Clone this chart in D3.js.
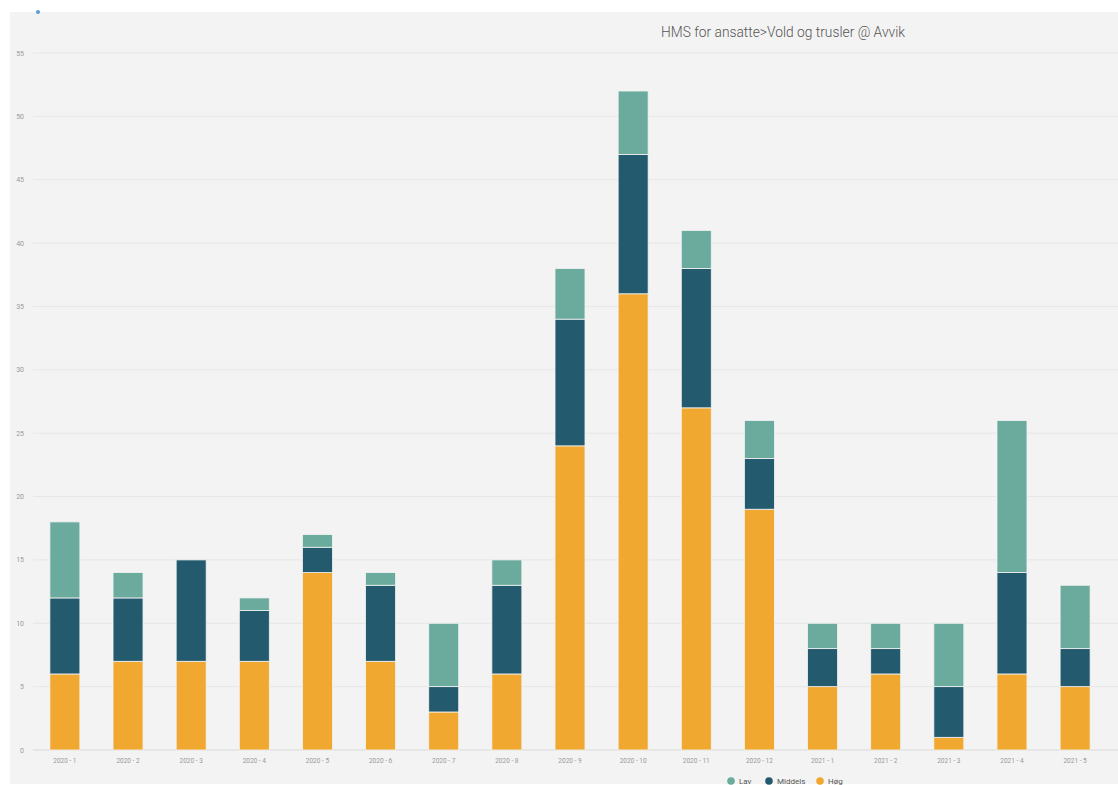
<!DOCTYPE html>
<html><head><meta charset="utf-8">
<script src="https://cdn.jsdelivr.net/npm/d3@7"></script>
<style>body{margin:0;background:#fff;font-family:Roboto,"Noto Sans",sans-serif}</style>
</head><body>
<svg id="c" width="1118" height="785"></svg>
<script>
const categories = ["2020 - 1","2020 - 2","2020 - 3","2020 - 4","2020 - 5","2020 - 6","2020 - 7","2020 - 8","2020 - 9","2020 - 10","2020 - 11","2020 - 12","2021 - 1","2021 - 2","2021 - 3","2021 - 4","2021 - 5"];
const hoy     = [6, 7, 7, 7, 14, 7, 3, 6, 24, 36, 27, 19, 5, 6, 1, 6, 5];
const middels = [6, 5, 8, 4, 2, 6, 2, 7, 10, 11, 11, 4, 3, 2, 4, 8, 3];
const lav     = [6, 2, 0, 1, 1, 1, 5, 2, 4, 5, 3, 3, 2, 2, 5, 12, 5];
const seriesNames = ["Høg", "Middels", "Lav"];
const legendNames = ["Lav", "Middels", "Høg"];
const colors = {"Lav": "#6aab9d", "Middels": "#245a6e", "Høg": "#f0a830"};
const yTicks = [0,5,10,15,20,25,30,35,40,45,50,55];
const title = "HMS for ansatte>Vold og trusler @ Avvik";

const svg = d3.select("#c");
svg.append("rect").attr("x",10).attr("y",12).attr("width",1108).attr("height",772).attr("fill","#f3f3f3");
svg.append("circle").attr("cx",38).attr("cy",12).attr("r",2).attr("fill","#5b9bd5");

const x = d3.scaleBand().domain(categories).range([33,1107]).paddingInner(0.525).paddingOuter(0.2675);
const y = d3.scaleLinear().domain([0,55]).range([750,53]);

// grid
svg.append("g").selectAll("line").data(yTicks).join("line")
  .attr("x1",33).attr("x2",1118).attr("y1",d=>y(d)).attr("y2",d=>y(d))
  .attr("stroke",d=>d===0?"#d9d9d9":"#e6e6e6").attr("stroke-width",1);
svg.append("g").selectAll("text").data(yTicks).join("text")
  .attr("x",24).attr("y",d=>y(d)+2.5).attr("text-anchor","end")
  .attr("font-size",7).attr("fill","#999").text(d=>d);

const data = categories.map((c,i)=>({cat:c,"Høg":hoy[i],"Middels":middels[i],"Lav":lav[i]}));
const stack = d3.stack().keys(seriesNames)(data);
svg.append("g").selectAll("g").data(stack).join("g")
  .attr("fill",d=>colors[d.key])
  .selectAll("rect").data(d=>d.filter(s=>s[1]-s[0]>0)).join("rect")
  .attr("x",d=>x(d.data.cat)).attr("width",x.bandwidth())
  .attr("y",d=>y(d[1])).attr("height",d=>y(d[0])-y(d[1]))
  .attr("stroke","#f3f3f3").attr("stroke-width",0.8);

// x labels
svg.append("g").selectAll("text").data(categories).join("text")
  .attr("x",d=>x(d)+x.bandwidth()/2).attr("y",763).attr("text-anchor","middle")
  .attr("font-size",6.5).attr("fill","#999").text(d=>d);

// title
svg.append("text").attr("x",661).attr("y",37).attr("font-size",14.5).attr("font-weight",300)
  .attr("textLength",244).attr("lengthAdjust","spacingAndGlyphs").attr("fill","#555").text(title);

// legend
const lx = [731, 769, 820];
const lg = svg.append("g").selectAll("g").data(legendNames).join("g")
  .attr("transform",(d,i)=>`translate(${lx[i]},781)`);
lg.append("circle").attr("r",3.8).attr("fill",d=>colors[d]);
lg.append("text").attr("x",8).attr("y",3).attr("font-size",8).attr("fill","#555").text(d=>d);
</script>
</body></html>
